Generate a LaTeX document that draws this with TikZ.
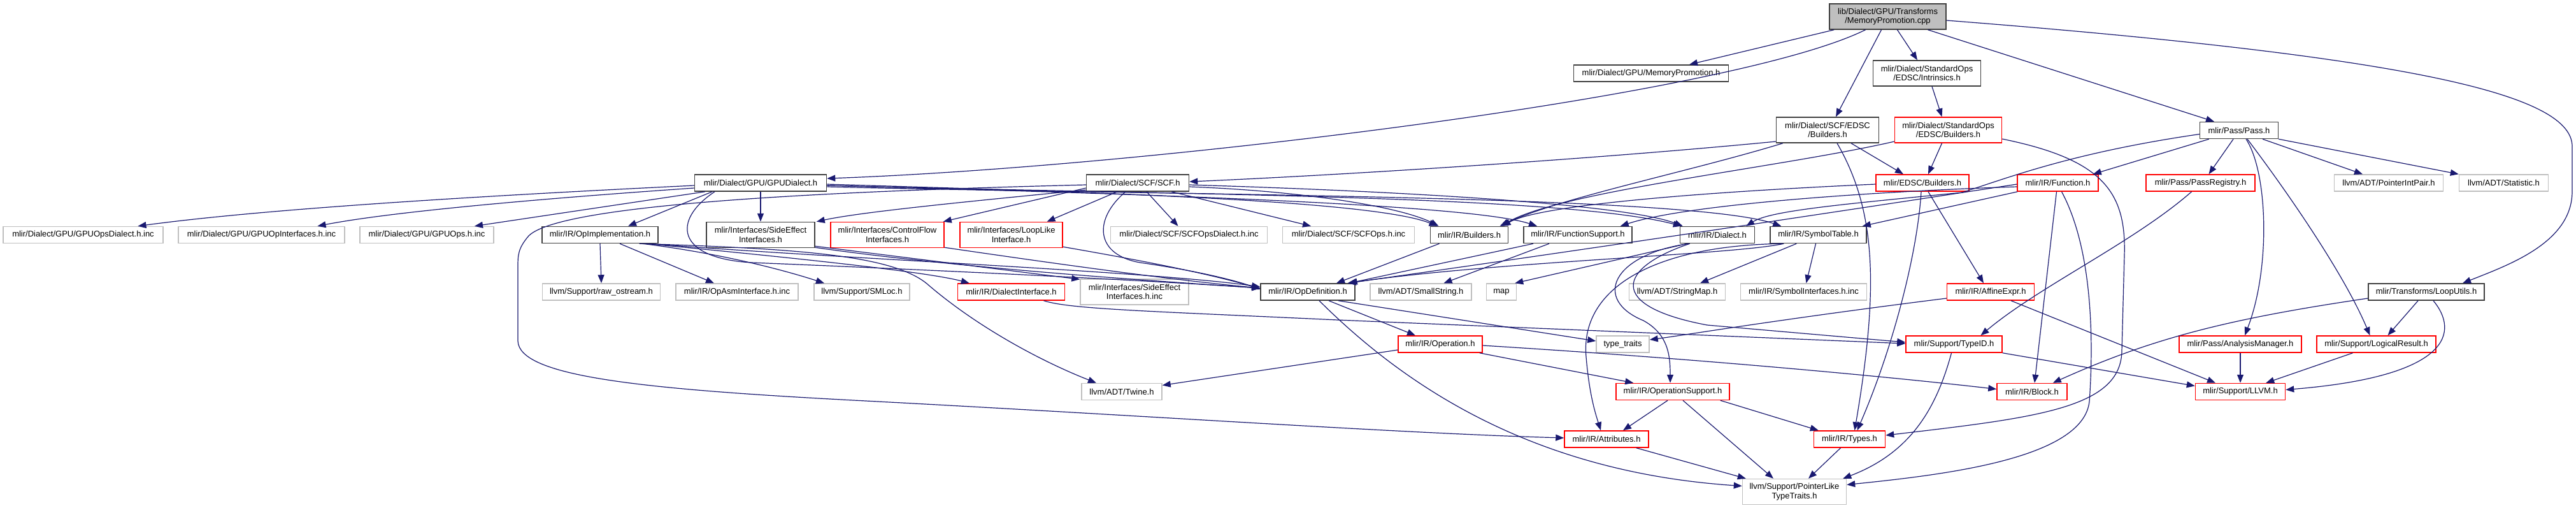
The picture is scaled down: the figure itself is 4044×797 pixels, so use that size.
\documentclass[tikz,border=0pt]{standalone}
\usepackage{fontspec}
\setmainfont{Liberation Sans}
\usetikzlibrary{arrows.meta,calc}
\definecolor{edgeblue}{HTML}{191970}
\definecolor{boxgray}{HTML}{BFBFBF}
\definecolor{boxblack}{HTML}{404040}
\begin{document}
\begin{tikzpicture}[x=1pt,y=-1pt,
  box/.style={rectangle,inner sep=0pt,line width=1.5pt,font=\fontsize{13}{14.5}\selectfont,align=center,minimum height=26pt},
  blk/.style={box,draw=boxblack},
  redb/.style={box,draw=red},
  gryb/.style={box,draw=boxgray},
  dbl/.style={minimum height=40pt},
  edge/.style={draw=edgeblue,line width=1.2pt,-{Triangle[length=13pt,width=10pt]}}
]
\path[use as bounding box,fill=white] (0,0) rectangle (4044,797);

% ---- nodes ----
\node[blk,dbl,fill=boxgray,minimum width=183pt] (cpp) at (2963.5,26) {lib/Dialect/GPU/Transforms\\/MemoryPromotion.cpp};
\node[blk,minimum width=243pt] (memh) at (2592,115) {mlir/Dialect/GPU/MemoryPromotion.h};
\node[blk,dbl,minimum width=169pt] (intr) at (3025,115) {mlir/Dialect/StandardOps\\/EDSC/Intrinsics.h};
\node[blk,dbl,minimum width=161pt] (scfedsc) at (2869,204) {mlir/Dialect/SCF/EDSC\\/Builders.h};
\node[redb,dbl,minimum width=168pt] (stdb) at (3058.5,204) {mlir/Dialect/StandardOps\\/EDSC/Builders.h};
\node[blk,minimum width=123pt] (pass) at (3515,204.5) {mlir/Pass/Pass.h};

\node[blk,minimum width=207pt] (gpud) at (1194,287) {mlir/Dialect/GPU/GPUDialect.h};
\node[blk,minimum width=161pt] (scf) at (1786,287) {mlir/Dialect/SCF/SCF.h};
\node[redb,minimum width=146pt] (edsc) at (3018,287) {mlir/EDSC/Builders.h};
\node[redb,minimum width=127pt] (func) at (3230.5,287) {mlir/IR/Function.h};
\node[redb,minimum width=171pt] (preg) at (3454.5,287) {mlir/Pass/PassRegistry.h};
\node[gryb,minimum width=171pt] (pip) at (3750,287) {llvm/ADT/PointerIntPair.h};
\node[gryb,minimum width=140pt] (stat) at (3930.5,287) {llvm/ADT/Statistic.h};

\node[gryb,minimum width=251pt] (gods) at (130.5,368.5) {mlir/Dialect/GPU/GPUOpsDialect.h.inc};
\node[gryb,minimum width=261pt] (goi) at (410.5,368.5) {mlir/Dialect/GPU/GPUOpInterfaces.h.inc};
\node[gryb,minimum width=210pt] (gops) at (670,368.5) {mlir/Dialect/GPU/GPUOps.h.inc};
\node[blk,minimum width=182pt] (opimpl) at (942,368.5) {mlir/IR/OpImplementation.h};
\node[blk,dbl,minimum width=170pt] (sei) at (1194,368.5) {mlir/Interfaces/SideEffect\\Interfaces.h};
\node[redb,dbl,minimum width=178pt] (cfi) at (1393,368.5) {mlir/Interfaces/ControlFlow\\Interfaces.h};
\node[redb,dbl,minimum width=161pt] (lli) at (1587.5,368.5) {mlir/Interfaces/LoopLike\\Interface.h};
\node[gryb,minimum width=246pt] (scfod) at (1866.5,368.5) {mlir/Dialect/SCF/SCFOpsDialect.h.inc};
\node[gryb,minimum width=207pt] (scfops) at (2117,368.5) {mlir/Dialect/SCF/SCFOps.h.inc};
\node[blk,minimum width=122pt] (build) at (2306.5,368.5) {mlir/IR/Builders.h};
\node[blk,minimum width=170pt] (fsup) at (2477,368.5) {mlir/IR/FunctionSupport.h};
\node[blk,minimum width=117pt] (dial) at (2696,368.5) {mlir/IR/Dialect.h};
\node[blk,minimum width=151pt] (symt) at (2854.5,368.5) {mlir/IR/SymbolTable.h};

\node[gryb,minimum width=185pt] (raw) at (944,458) {llvm/Support/raw\_ostream.h};
\node[gryb,minimum width=192pt] (asm) at (1157,458) {mlir/IR/OpAsmInterface.h.inc};
\node[gryb,minimum width=150pt] (smloc) at (1353,458) {llvm/Support/SMLoc.h};
\node[redb,minimum width=168pt] (dint) at (1587.5,458) {mlir/IR/DialectInterface.h};
\node[gryb,dbl,minimum width=170pt] (seinc) at (1781,458) {mlir/Interfaces/SideEffect\\Interfaces.h.inc};
\node[blk,minimum width=148pt] (opdef) at (2053,458) {mlir/IR/OpDefinition.h};
\node[gryb,minimum width=159pt] (sstr) at (2230.5,458) {llvm/ADT/SmallString.h};
\node[gryb,minimum width=47pt] (map) at (2357,458) {map};
\node[gryb,minimum width=151pt] (smap) at (2633,458) {llvm/ADT/StringMap.h};
\node[gryb,minimum width=198pt] (syminc) at (2831.5,458) {mlir/IR/SymbolInterfaces.h.inc};
\node[redb,minimum width=137pt] (affine) at (3125,458) {mlir/IR/AffineExpr.h};
\node[blk,minimum width=182pt] (loop) at (3809,458) {mlir/Transforms/LoopUtils.h};

\node[redb,minimum width=132pt] (oper) at (2261,540) {mlir/IR/Operation.h};
\node[gryb,minimum width=83pt] (tt) at (2547.5,540) {type\_traits};
\node[redb,minimum width=151pt] (typeid) at (3067.5,540) {mlir/Support/TypeID.h};
\node[redb,minimum width=192pt] (am) at (3517,540) {mlir/Pass/AnalysisManager.h};
\node[redb,minimum width=187pt] (lr) at (3730.5,540) {mlir/Support/LogicalResult.h};

\node[gryb,minimum width=126pt] (twine) at (1761,614.5) {llvm/ADT/Twine.h};
\node[redb,minimum width=178pt] (opsup) at (2626,614.5) {mlir/IR/OperationSupport.h};
\node[redb,minimum width=110pt] (block) at (3190,614.5) {mlir/IR/Block.h};
\node[redb,minimum width=141pt] (llvmh) at (3517,614.5) {mlir/Support/LLVM.h};

\node[redb,minimum width=132pt] (attr) at (2522,689) {mlir/IR/Attributes.h};
\node[redb,minimum width=112pt] (types) at (2903.5,689) {mlir/IR/Types.h};
\node[gryb,dbl,minimum width=163pt] (plt) at (2817,771.5) {llvm/Support/PointerLike\\TypeTraits.h};

% ---- edges ----
% from cpp
\draw[edge] ($(cpp.south west)+(8,0)$) -- ($(memh.north)+(60,0)$);
\draw[edge] ($(cpp.south)+(-35,0)$) .. controls (2720,150) and (1800,262) .. ($(gpud.east)+(0,-7)$);
\draw[edge] ($(cpp.south)+(-10,0)$) -- ($(scfedsc.north)+(13,0)$);
\draw[edge] ($(cpp.south)+(15,0)$) -- ($(intr.north)+(-15,0)$);
\draw[edge] ($(cpp.south)+(63,0)$) -- ($(pass.north)+(-39,0)$);
\draw[edge] ($(cpp.east)+(0,6)$) .. controls (3800,90) and (4038,150) .. (4038,230) -- (4038,300) .. controls (4038,380) and (3940,415) .. ($(loop.north)+(57,0)$);

% from GPUDialect.h
\draw[edge] ($(gpud.west)+(0,4)$) .. controls (700,310) and (400,330) .. ($(gods.north)+(86,0)$);
\draw[edge] ($(gpud.west)+(0,8)$) .. controls (800,315) and (600,335) .. ($(goi.north)+(88,0)$);
\draw[edge] ($(gpud.south west)+(17,0)$) -- ($(gops.north)+(75,0)$);
\draw[edge] ($(gpud.south)+(-76,0)$) -- ($(opimpl.north)+(44,0)$);
\draw[edge] (gpud.south) -- (sei.north);
\draw[edge] ($(gpud.south)+(-72,0)$) .. controls (1055,345) and (1060,405) .. (1180,412) .. controls (1500,425) and (1800,440) .. ($(opdef.west)+(0,-6)$);
\draw[edge] ($(gpud.east)+(0,2)$) .. controls (1650,300) and (2150,312) .. ($(build.north)+(-50,0)$);
\draw[edge] ($(gpud.east)+(0,4)$) .. controls (1700,302) and (2300,318) .. ($(fsup.north)+(-64,0)$);
\draw[edge] ($(gpud.east)+(0,4)$) .. controls (1800,305) and (2450,305) .. ($(dial.north west)+(3,0)$);
\draw[edge] ($(gpud.east)+(0,6)$) .. controls (1800,306) and (2650,305) .. ($(symt.north west)+(18,0)$);

% from SCF.h
\draw[edge] ($(scf.west)+(0,8)$) -- ($(cfi.north east)+(-2,0)$);
\draw[edge] ($(scf.south)+(-32,0)$) -- ($(lli.north)+(56,0)$);
\draw[edge] ($(scf.south)+(14,0)$) -- ($(scfod.north)+(-17,0)$);
\draw[edge] ($(scf.south east)+(-28,0)$) -- ($(scfops.north)+(-59,0)$);
\draw[edge] ($(scf.west)+(0,11)$) .. controls (1500,318) and (1350,333) .. ($(sei.north east)+(2,0)$);
\draw[edge] ($(scf.east)+(0,6)$) .. controls (2050,300) and (2200,325) .. ($(build.north)+(-48,0)$);
\draw[edge] ($(scf.east)+(0,3)$) .. controls (2200,300) and (2550,320) .. ($(dial.north west)+(5,0)$);
\draw[edge] ($(scf.south)+(-19,0)$) .. controls (1715,345) and (1720,400) .. (1790,412) .. controls (1880,425) and (1940,440) .. ($(opdef.west)+(0,-4)$);
\draw[edge] ($(scf.west)+(0,3)$) .. controls (1300,300) and (880,320) .. (830,370) .. controls (813,390) and (813,400) .. (813,420) -- (813,535) .. controls (815,590) and (1000,610) .. (1340,628) .. controls (1800,652) and (2200,680) .. ($(attr.west)+(0,-2)$);

% from OpImplementation.h
\draw[edge] (opimpl.south) -- (raw.north);
\draw[edge] ($(opimpl.south)+(31,0)$) -- ($(asm.north)+(-36,0)$);
\draw[edge] ($(opimpl.south east)+(-25,0)$) .. controls (1150,400) and (1250,430) .. ($(smloc.north)+(-59,0)$);
\draw[edge] ($(opimpl.south east)+(-20,0)$) .. controls (1200,400) and (1450,425) .. ($(dint.north west)+(19,0)$);
\draw[edge] ($(opimpl.south east)+(-15,0)$) .. controls (1300,405) and (1800,425) .. ($(opdef.west)+(0,-8)$);
\draw[edge] ($(opimpl.south east)+(-30,0)$) .. controls (1250,390) and (1400,400) .. (1455,445) .. controls (1530,510) and (1630,565) .. ($(twine.north)+(-40,0)$);

% interfaces
\draw[edge] ($(sei.south east)+(0,-3)$) -- ($(seinc.north west)+(0,1)$);
\draw[edge] ($(sei.south east)+(0,-1)$) .. controls (1500,420) and (1800,440) .. ($(opdef.west)+(0,-6)$);
\draw[edge] ($(cfi.south east)+(0,-1)$) .. controls (1700,420) and (1850,440) .. ($(opdef.west)+(0,-6)$);
\draw[edge] ($(lli.south east)+(0,-2)$) .. controls (1800,410) and (1900,430) .. ($(opdef.west)+(0,-5)$);

% Builders.h, FunctionSupport.h
\draw[edge] ($(build.south)+(-47,0)$) -- ($(opdef.north)+(45,0)$);
\draw[edge] ($(fsup.south)+(-70,0)$) -- ($(opdef.north east)+(-10,0)$);
\draw[edge] ($(fsup.south)+(-45,0)$) -- ($(sstr.north)+(36,0)$);

% Dialect.h
\draw[edge] ($(dial.south west)+(12,0)$) -- ($(map.north east)+(-3,0)$);
\draw[edge] ($(dial.south west)+(14,0)$) .. controls (2530,400) and (2500,470) .. (2580,503) .. controls (2620,525) and (2622,560) .. ($(opsup.north)+(-4,0)$);
\draw[edge] ($(dial.south west)+(16,0)$) .. controls (2540,420) and (2520,480) .. (2680,510) -- ($(typeid.west)+(0,-3)$);

% SymbolTable.h
\draw[edge] ($(symt.south west)+(22,0)$) .. controls (2720,400) and (2350,410) .. ($(opdef.north east)+(-12,0)$);
\draw[edge] ($(symt.south west)+(20,0)$) .. controls (2600,385) and (2480,450) .. (2490,560) .. controls (2495,620) and (2505,650) .. ($(attr.north)+(-9,0)$);
\draw[edge] ($(symt.south west)+(42,0)$) -- ($(smap.north)+(36,0)$);
\draw[edge] ($(symt.south)+(-4,0)$) -- ($(syminc.north)+(4,0)$);

% Function.h
\draw[edge] ($(func.south west)+(1,0)$) -- ($(symt.north east)+(-7,0)$);
\draw[edge] ($(func.west)+(0,6)$) .. controls (2950,300) and (2650,320) .. ($(fsup.north east)+(-19,0)$);
\draw[edge] ($(func.west)+(0,2)$) .. controls (2900,330) and (2500,390) .. ($(opdef.north east)+(-12,0)$);
\draw[edge] ($(func.south)+(-2,0)$) -- ($(block.north)+(4,0)$);
\draw[edge] ($(func.south)+(6,0)$) .. controls (3290,400) and (3285,560) .. (3280,630) .. controls (3270,720) and (3050,745) .. ($(plt.east)+(0,-11)$);

% Pass.h
\draw[edge] ($(pass.south west)+(15,0)$) -- ($(func.north east)+(-9,0)$);
\draw[edge] ($(pass.west)+(0,6)$) .. controls (3250,240) and (3150,280) .. (3080,302) .. controls (2900,320) and (2780,330) .. ($(dial.north east)+(-14,0)$);
\draw[edge] ($(pass.south)+(-9,0)$) -- ($(preg.north)+(13,0)$);
\draw[edge] ($(pass.south)+(37,0)$) -- ($(pip.north)+(-41,0)$);
\draw[edge] (pass.south east) -- (stat.north west);
\draw[edge] ($(pass.south)+(11,0)$) .. controls (3560,270) and (3565,420) .. ($(am.north)+(7,0)$);
\draw[edge] ($(pass.south)+(13,0)$) .. controls (3590,300) and (3680,430) .. ($(lr.north)+(-10,0)$);

% EDSC
\draw[edge] ($(intr.south)+(8,0)$) -- ($(stdb.north)+(-10,0)$);
\draw[edge] ($(stdb.south)+(-10,0)$) -- ($(edsc.north)+(9,0)$);
\draw[edge] ($(stdb.west)+(0,18)$) .. controls (2800,262) and (2450,300) .. ($(build.north)+(50,0)$);
\draw[edge] ($(stdb.east)+(0,14)$) .. controls (3300,250) and (3338,300) .. (3335,400) -- (3331,550) .. controls (3330,640) and (3200,655) .. ($(types.east)+(0,-6)$);
\draw[edge] ($(scfedsc.west)+(0,18)$) .. controls (2500,250) and (2100,275) .. ($(scf.east)+(0,-2)$);
\draw[edge] ($(scfedsc.south west)+(11,0)$) .. controls (2650,270) and (2450,310) .. ($(build.north)+(48,0)$);
\draw[edge] ($(scfedsc.south)+(37,0)$) -- ($(edsc.north)+(-30,0)$);
\draw[edge] ($(scfedsc.south)+(15,0)$) .. controls (2945,330) and (2950,450) .. ($(types.north)+(8,0)$);
\draw[edge] ($(edsc.west)+(0,2)$) .. controls (2700,300) and (2420,320) .. ($(build.north)+(52,0)$);
\draw[edge] ($(edsc.south)+(-2,0)$) .. controls (3010,400) and (2970,550) .. ($(types.north)+(12,0)$);
\draw[edge] ($(edsc.south)+(9,0)$) -- ($(affine.north)+(-11,0)$);

% lower part
\draw[edge] ($(dint.south)+(51,0)$) .. controls (1680,485) and (1800,488) .. (2100,502) -- ($(typeid.west)+(0,-1)$);
\draw[edge] ($(opdef.south)+(33,0)$) -- ($(oper.north)+(-39,0)$);
\draw[edge] ($(opdef.south)+(48,0)$) -- ($(tt.west)+(0,-5)$);
\draw[edge] ($(opdef.south)+(18,0)$) .. controls (2200,600) and (2400,740) .. ($(plt.west)+(0,-9)$);
\draw[edge] ($(oper.west)+(0,9)$) -- ($(twine.east)+(0,-10)$);
\draw[edge] ($(oper.south east)+(-5,0)$) -- ($(opsup.north west)+(28,0)$);
\draw[edge] ($(oper.east)+(0,2)$) .. controls (2700,565) and (3000,595) .. ($(block.west)+(0,-4)$);
\draw[edge] ($(opsup.south)+(-8,0)$) -- ($(attr.north)+(26,0)$);
\draw[edge] ($(opsup.south)+(16,0)$) -- ($(plt.north)+(-33,0)$);
\draw[edge] ($(opsup.south east)+(-15,0)$) -- ($(types.north west)+(8,0)$);
\draw[edge] ($(attr.south east)+(-20,0)$) -- ($(plt.north west)+(6,0)$);
\draw[edge] ($(types.south)+(-14,0)$) -- ($(plt.north)+(22,0)$);
\draw[edge] ($(typeid.south)+(-4,0)$) .. controls (3040,640) and (3000,710) .. ($(plt.north east)+(-6,0)$);
\draw[edge] (typeid.south east) -- ($(llvmh.west)+(0,-9)$);
\draw[edge] ($(affine.west)+(0,10)$) .. controls (2800,500) and (2650,525) .. ($(tt.east)+(0,-7)$);
\draw[edge] ($(affine.south)+(32,0)$) -- ($(llvmh.north)+(-39,0)$);
\draw[edge] ($(preg.south)+(-14,0)$) .. controls (3350,380) and (3200,450) .. ($(typeid.north)+(42,0)$);
\draw[edge] (am.south) -- (llvmh.north);
\draw[edge] ($(lr.south)+(-37,0)$) -- ($(llvmh.north east)+(-31,0)$);
\draw[edge] ($(loop.south)+(-13,0)$) -- ($(lr.north)+(18,0)$);
\draw[edge] ($(loop.south)+(11,0)$) .. controls (3860,520) and (3850,590) .. ($(llvmh.east)+(0,-3)$);
\draw[edge] ($(loop.west)+(0,10)$) .. controls (3500,500) and (3380,530) .. ($(block.north east)+(-23,0)$);
\end{tikzpicture}
\end{document}
